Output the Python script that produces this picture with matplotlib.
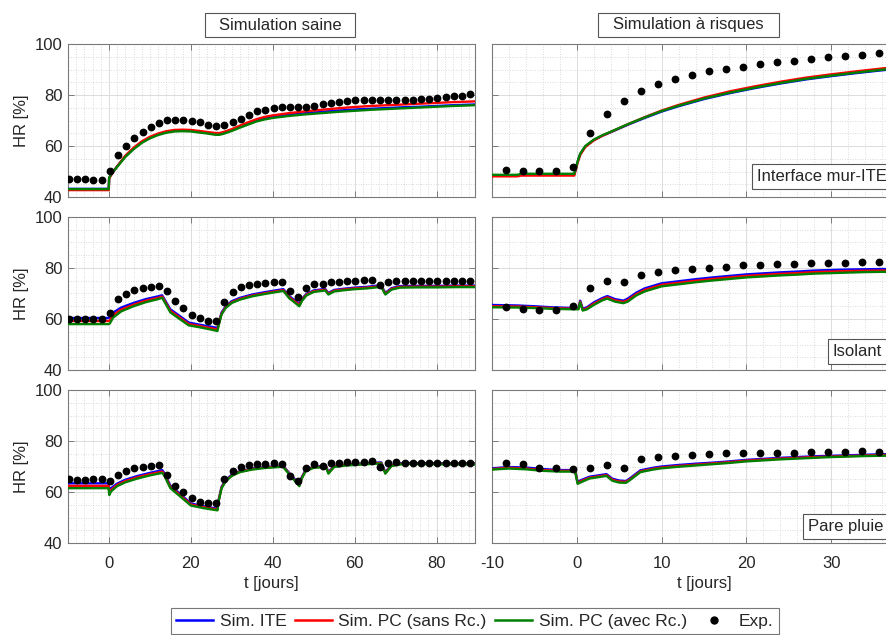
import numpy as np
import matplotlib
matplotlib.use("Agg")
import matplotlib.pyplot as plt
from matplotlib.ticker import MultipleLocator
from matplotlib.lines import Line2D
from matplotlib.patches import Rectangle

plt.rcParams['font.family'] = ['Liberation Sans', 'DejaVu Sans']
plt.rcParams['axes.unicode_minus'] = False

# ---------------- DATA ----------------
col_titles = ["Simulation saine", "Simulation à risques"]
row_labels = ["Interface mur-ITE", "Isolant", "Pare pluie"]
legend_labels = ["Sim. ITE", "Sim. PC (sans Rc.)", "Sim. PC (avec Rc.)", "Exp."]

# experimental time stamps
t_exp_saine = np.arange(-9.8, 88.3, 2.0)
t_exp_risque = np.arange(-8.4, 35.7, 2.0)

exp_TL = [47.1, 47.1, 47.0, 46.7, 46.7, 50.1, 56.5, 59.9, 63.3, 65.4, 67.3, 69.0, 70.1, 70.3, 70.2,
          69.9, 69.3, 68.2, 67.7, 68.2, 69.3, 70.7, 72.3, 73.6, 74.3, 75.0, 75.3, 75.3, 75.3, 75.3,
          75.6, 76.3, 77.0, 77.3, 77.6, 78.0, 78.0, 78.2, 78.0, 78.1, 78.1, 78.1, 78.2, 78.5, 78.6,
          78.8, 79.1, 79.5, 79.8, 80.2]
exp_ML = [60.0, 60.0, 60.0, 60.0, 60.0, 62.5, 67.7, 69.7, 71.4, 72.3, 72.7, 73.1, 71.0, 67.1, 64.4,
          61.6, 60.3, 59.3, 59.3, 66.8, 70.5, 72.4, 73.3, 73.7, 74.0, 74.5, 74.5, 70.8, 68.5, 72.2,
          73.7, 73.7, 74.4, 74.6, 74.9, 75.0, 75.3, 75.3, 73.2, 74.5, 74.9, 75.0, 75.0, 75.0, 75.0,
          75.0, 74.9, 74.9, 74.9, 75.0]
exp_BL = [65.0, 64.7, 64.7, 65.0, 65.0, 64.3, 66.7, 68.4, 69.3, 69.9, 70.3, 70.6, 66.7, 62.4, 60.1,
          57.5, 56.2, 55.6, 55.8, 65.0, 68.4, 69.9, 70.6, 70.9, 70.9, 71.2, 71.0, 66.3, 64.4, 69.3,
          70.9, 70.2, 71.2, 71.5, 71.6, 71.9, 71.9, 72.2, 69.9, 71.5, 71.9, 71.5, 71.5, 71.5, 71.5,
          71.5, 71.5, 71.5, 71.5, 71.5]
exp_TR = [50.7, 50.3, 50.1, 50.3, 51.6, 65.1, 72.6, 77.8, 81.4, 84.3, 86.3, 87.8, 89.3, 90.3, 91.1,
          92.2, 92.8, 93.3, 94.1, 94.8, 95.2, 95.7, 96.3]
exp_MR = [64.6, 63.9, 63.5, 63.5, 65.1, 72.0, 75.0, 74.6, 77.3, 78.6, 79.2, 79.7, 80.1, 80.5, 81.0,
          81.0, 81.4, 81.4, 81.8, 82.1, 82.1, 82.4, 82.4]
exp_BR = [71.5, 70.8, 69.5, 69.3, 68.9, 69.5, 70.6, 69.3, 72.8, 73.9, 74.1, 74.5, 74.9, 75.2, 75.4,
          75.4, 75.4, 75.4, 75.6, 75.8, 75.8, 76.1, 75.8]

# simulations: top-left
t_TL = [-10, -0.05, 0.05, 0.8, 2, 4, 6, 8, 10, 12, 14, 16, 18, 20, 22, 24, 26, 27, 28, 30, 32, 34, 36,
        38, 40, 44, 48, 52, 56, 60, 64, 68, 72, 76, 80, 84, 89.5]
ite_TL = [43.2, 43.2, 47.5, 49.5, 52.0, 56.0, 59.0, 61.5, 63.3, 64.6, 65.5, 66.0, 66.1, 66.0, 65.6,
          65.2, 64.8, 64.8, 65.2, 66.3, 67.6, 68.8, 70.0, 70.8, 71.5, 72.3, 72.9, 73.4, 73.9, 74.3,
          74.6, 74.9, 75.2, 75.4, 75.7, 76.0, 76.3]
pcs_TL = [42.7, 42.7, 47.2, 49.3, 52.0, 56.2, 59.3, 61.8, 63.6, 64.9, 65.8, 66.3, 66.4, 66.3, 65.9,
          65.5, 65.1, 65.1, 65.5, 66.6, 68.0, 69.3, 70.5, 71.4, 72.0, 72.9, 73.6, 74.2, 74.8, 75.3,
          75.7, 76.0, 76.3, 76.6, 76.9, 77.2, 77.5]
pca_TL = [43.1, 43.1, 47.6, 49.5, 51.8, 55.7, 58.7, 61.2, 63.0, 64.3, 65.2, 65.7, 65.8, 65.7, 65.3,
          64.9, 64.4, 64.4, 64.8, 65.9, 67.2, 68.4, 69.6, 70.4, 71.0, 71.8, 72.4, 72.9, 73.4, 73.8,
          74.2, 74.5, 74.8, 75.1, 75.4, 75.7, 76.0]

# simulations: top-right
t_TR = [-10, -7, -6.6, -0.3, 0.1, 0.4, 1, 2, 3, 4, 6, 8, 10, 12, 15, 18, 21, 24, 27, 30, 33, 36, 40]
ite_TR = [48.5, 48.5, 48.8, 48.8, 53.8, 56.8, 59.8, 62.3, 64.0, 65.4, 68.3, 71.0, 73.5, 75.6, 78.4,
          80.7, 82.7, 84.5, 86.1, 87.4, 88.6, 89.7, 91.0]
pcs_TR = [48.1, 48.1, 48.4, 48.4, 53.5, 56.5, 59.6, 62.2, 64.0, 65.5, 68.5, 71.3, 73.9, 76.1, 79.0,
          81.4, 83.4, 85.2, 86.8, 88.1, 89.3, 90.4, 91.7]
pca_TR = [48.7, 48.7, 49.1, 49.1, 54.0, 57.0, 60.0, 62.5, 64.2, 65.6, 68.5, 71.2, 73.7, 75.8, 78.6,
          80.9, 82.9, 84.7, 86.3, 87.6, 88.8, 89.9, 91.2]

# simulations: middle-left
t_ML = [-10, -0.1, 0.2, 1, 3, 6, 9, 12, 13, 14, 15, 17, 19.5, 22, 24.5, 26.5, 26.8, 27.5, 28.5, 30,
        32, 35, 38, 41, 42.6, 44, 46.5, 47.2, 48.2, 50, 52.8, 53.6, 55, 57, 60, 63, 66.5, 67.5, 69,
        71, 75, 80, 85, 89.5]
ite_ML = [60.4, 60.4, 60.6, 62.5, 64.5, 66.3, 67.8, 68.9, 69.3, 66.5, 63.8, 61.5, 58.6, 57.8, 57.1,
          56.5, 58.5, 62.5, 65.0, 67.0, 68.3, 69.6, 70.5, 71.3, 71.7, 69.0, 66.0, 68.0, 69.8, 71.2,
          71.8, 70.2, 71.4, 71.8, 72.3, 72.6, 73.3, 70.2, 72.1, 72.9, 73.0, 73.0, 73.1, 73.1]
pcs_ML = [59.2, 59.2, 59.4, 61.5, 63.7, 65.6, 67.2, 68.3, 68.8, 66.0, 63.2, 60.9, 58.0, 57.3, 56.5,
          55.9, 58.0, 62.1, 64.6, 66.6, 67.9, 69.2, 70.1, 70.9, 71.3, 68.6, 65.5, 67.6, 69.5, 70.9,
          71.5, 69.9, 71.1, 71.5, 72.0, 72.3, 72.9, 69.9, 71.8, 72.6, 72.7, 72.7, 72.8, 72.8]
pca_ML = [58.0, 58.0, 58.2, 60.5, 63.0, 65.0, 66.6, 67.8, 68.3, 65.5, 62.6, 60.3, 57.5, 56.8, 56.0,
          55.3, 57.5, 61.8, 64.3, 66.3, 67.6, 68.9, 69.8, 70.6, 71.0, 68.2, 65.0, 67.2, 69.2, 70.6,
          71.2, 69.6, 70.8, 71.2, 71.7, 72.0, 72.6, 69.6, 71.5, 72.3, 72.4, 72.4, 72.5, 72.5]

# simulations: middle-right
t_MR = [-10, -7, -5, -3, -0.3, 0.2, 0.4, 0.7, 1.2, 2, 3, 3.6, 4.5, 5.5, 6, 7, 8, 9, 10, 12, 14, 16,
        18, 20, 22, 24, 26, 28, 30, 32, 34, 36, 38, 40]
ite_MR = [65.5, 65.3, 65.0, 64.6, 64.3, 64.3, 67.2, 64.0, 64.6, 66.5, 68.2, 69.0, 67.8, 67.2, 68.0,
          70.3, 72.0, 73.0, 74.0, 74.8, 75.6, 76.3, 76.9, 77.5, 77.9, 78.3, 78.6, 79.0, 79.2, 79.4,
          79.5, 79.6, 79.5, 79.6]
pcs_MR = [65.0, 64.9, 64.6, 64.3, 64.0, 64.0, 66.8, 63.6, 64.2, 66.0, 67.7, 68.5, 67.3, 66.7, 67.4,
          69.7, 71.4, 72.4, 73.4, 74.2, 75.0, 75.7, 76.3, 76.9, 77.3, 77.7, 78.0, 78.4, 78.6, 78.8,
          78.9, 79.0, 78.9, 79.0]
pca_MR = [64.6, 64.5, 64.3, 64.0, 63.8, 63.8, 66.5, 63.3, 63.8, 65.5, 67.3, 68.0, 66.8, 66.2, 66.8,
          69.2, 70.8, 71.8, 72.8, 73.6, 74.4, 75.1, 75.7, 76.3, 76.7, 77.1, 77.4, 77.8, 78.0, 78.2,
          78.4, 78.5, 78.4, 78.5]

# simulations: bottom-left
t_BL = [-10, -0.1, 0.1, 0.5, 2, 4, 7, 10, 13, 13.5, 15, 17, 20, 23, 26.5, 26.8, 27.5, 28.5, 30, 32,
        35, 38, 42.5, 44, 46.5, 47, 48, 50, 53, 53.6, 55, 58, 62, 66.5, 67.5, 69, 72, 78, 84, 89.5]
ite_BL = [63.4, 63.4, 60.5, 61.5, 63.3, 64.8, 66.3, 67.5, 68.6, 67.5, 62.5, 59.8, 55.5, 54.5, 53.4,
          57.0, 62.0, 64.7, 66.8, 68.2, 69.2, 69.8, 70.3, 67.5, 63.0, 65.5, 68.6, 69.9, 70.2, 67.8,
          70.2, 70.8, 71.2, 71.6, 67.8, 70.6, 71.4, 71.3, 71.2, 71.2]
pcs_BL = [62.4, 62.4, 59.6, 60.8, 62.8, 64.3, 65.8, 67.0, 68.0, 67.0, 62.0, 59.3, 55.1, 54.1, 53.1,
          56.7, 61.7, 64.4, 66.5, 68.0, 69.0, 69.6, 70.1, 67.2, 62.6, 65.2, 68.3, 69.7, 70.0, 67.5,
          70.0, 70.6, 71.0, 71.4, 67.5, 70.4, 71.2, 71.1, 71.0, 71.0]
pca_BL = [61.5, 61.5, 58.8, 60.2, 62.3, 63.8, 65.3, 66.5, 67.5, 66.5, 61.5, 58.8, 54.7, 53.7, 52.8,
          56.4, 61.4, 64.2, 66.3, 67.8, 68.8, 69.4, 69.9, 67.0, 62.3, 65.0, 68.1, 69.5, 69.8, 67.2,
          69.8, 70.4, 70.8, 71.2, 67.2, 70.2, 71.0, 70.9, 70.8, 70.8]

# simulations: bottom-right
t_BR = [-10, -8, -6, -4, -2, -0.2, 0.1, 0.6, 1.5, 2.5, 3.5, 4.2, 5, 5.8, 6.2, 7.5, 9, 10, 12, 14, 16,
        18, 20, 22, 24, 26, 28, 30, 32, 34, 36, 38, 40]
ite_BR = [69.3, 69.8, 69.6, 69.0, 68.6, 68.6, 64.0, 64.8, 66.0, 66.5, 67.0, 65.2, 64.5, 64.3, 65.2,
          68.5, 69.5, 70.0, 70.6, 71.1, 71.5, 72.0, 72.6, 73.0, 73.4, 73.7, 74.0, 74.2, 74.4, 74.6,
          74.8, 74.9, 75.0]
pcs_BR = [69.0, 69.5, 69.2, 68.6, 68.3, 68.3, 63.6, 64.4, 65.6, 66.1, 66.6, 64.8, 64.1, 64.0, 64.8,
          68.1, 69.1, 69.6, 70.2, 70.7, 71.2, 71.7, 72.3, 72.7, 73.1, 73.4, 73.7, 73.9, 74.1, 74.3,
          74.5, 74.6, 74.7]
pca_BR = [68.8, 69.2, 68.9, 68.3, 68.0, 68.0, 63.2, 64.0, 65.3, 65.8, 66.3, 64.4, 63.7, 63.6, 64.5,
          67.8, 68.8, 69.3, 69.9, 70.4, 70.9, 71.4, 72.0, 72.4, 72.8, 73.1, 73.4, 73.7, 73.9, 74.1,
          74.2, 74.3, 74.4]

sims = {
    (0, 0): (t_TL, ite_TL, pcs_TL, pca_TL, t_exp_saine, exp_TL),
    (0, 1): (t_TR, ite_TR, pcs_TR, pca_TR, t_exp_risque, exp_TR),
    (1, 0): (t_ML, ite_ML, pcs_ML, pca_ML, t_exp_saine, exp_ML),
    (1, 1): (t_MR, ite_MR, pcs_MR, pca_MR, t_exp_risque, exp_MR),
    (2, 0): (t_BL, ite_BL, pcs_BL, pca_BL, t_exp_saine, exp_BL),
    (2, 1): (t_BR, ite_BR, pcs_BR, pca_BR, t_exp_risque, exp_BR),
}

# ---------------- STYLE / LAYOUT ----------------
W, H = 887, 635
fig = plt.figure(figsize=(W / 100, H / 100), dpi=100)

C_ITE = '#0000ff'
C_PCS = '#ff0000'
C_PCA = '#008000'
SPINE = '#7a7a7a'
BOXEC = '#555555'
TXT = '#262626'
FS = 12

def px_ax(left, top, right, bottom):
    return [left / W, 1 - bottom / H, (right - left) / W, (bottom - top) / H]

rows_px = [(44, 197), (217, 370), (390, 543)]
cols_px = [(68, 475), (492, 916)]
xlims = [(-10, 89.4), (-10, 40)]
label_pos = [(0.625, 0.131), (0.804, 0.124), (0.745, 0.110)]

axes = {}
for r, (top, bot) in enumerate(rows_px):
    for c, (lft, rgt) in enumerate(cols_px):
        ax = fig.add_axes(px_ax(lft, top, rgt, bot))
        axes[(r, c)] = ax
        t, ite, pcs, pca, te, ex = sims[(r, c)]
        ax.plot(t, ite, color=C_ITE, lw=1.7, zorder=3)
        ax.plot(t, pcs, color=C_PCS, lw=1.7, zorder=4)
        ax.plot(t, pca, color=C_PCA, lw=1.7, zorder=5)
        ax.plot(te, ex, 'o', color='black', ms=4.6, mec='black', zorder=6)
        ax.set_xlim(*xlims[c])
        ax.set_ylim(40, 100)
        if c == 0:
            ax.xaxis.set_major_locator(MultipleLocator(20))
        else:
            ax.xaxis.set_major_locator(MultipleLocator(10))
        ax.xaxis.set_minor_locator(MultipleLocator(2))
        ax.yaxis.set_major_locator(MultipleLocator(20))
        ax.yaxis.set_minor_locator(MultipleLocator(5))
        ax.grid(which='major', color='#dcdcdc', lw=0.7, ls='-', zorder=0)
        ax.grid(which='minor', color='#cfcfcf', lw=0.6, ls=(0, (1, 2)), zorder=0)
        ax.set_axisbelow(True)
        ax.tick_params(which='major', direction='in', length=4, width=0.7, color=SPINE,
                       top=True, right=True, labelsize=FS, labelcolor=TXT)
        ax.tick_params(axis='y', which='major', pad=4)
        ax.tick_params(axis='x', which='major', pad=9)
        ax.tick_params(which='minor', length=0)
        for s in ax.spines.values():
            s.set_color(SPINE)
            s.set_linewidth(0.8)
        if c == 0:
            ax.set_ylabel('HR [%]', fontsize=FS, color=TXT, labelpad=4)
            ax.set_yticks([40, 60, 80, 100])
        else:
            ax.tick_params(labelleft=False)
        if r < 2:
            ax.tick_params(labelbottom=False)
        else:
            ax.set_xlabel('t [jours]', fontsize=FS, color=TXT, labelpad=4)
        if c == 1:
            lx, ly = label_pos[r]
            ax.text(lx, ly, row_labels[r], transform=ax.transAxes, fontsize=FS, color=TXT,
                    ha='left', va='center', zorder=10,
                    bbox=dict(boxstyle='square,pad=0.3', fc='white', ec=BOXEC, lw=0.8))

axes[(2, 0)].set_xticks([0, 20, 40, 60, 80])
axes[(2, 1)].set_xticks([-10, 0, 10, 20, 30])
axes[(2, 1)].set_xticks([40], minor=True)
axes[(2, 1)].xaxis.set_minor_locator(MultipleLocator(2))

# column titles in boxes
title_boxes = [(205, 13, 355, 37), (598, 13, 779, 37)]
for (x0, y0, x1, y1), ttl in zip(title_boxes, col_titles):
    fig.patches.append(Rectangle((x0 / W, 1 - y1 / H), (x1 - x0) / W, (y1 - y0) / H,
                                 transform=fig.transFigure, fc='white', ec=BOXEC, lw=0.8))
    fig.text((x0 + x1) / 2 / W, 1 - (y0 + y1) / 2 / H, ttl, ha='center', va='center',
             fontsize=FS, color=TXT)

# legend
handles = [Line2D([], [], color=C_ITE, lw=1.8),
           Line2D([], [], color=C_PCS, lw=1.8),
           Line2D([], [], color=C_PCA, lw=1.8),
           Line2D([], [], ls='none', marker='o', color='black', ms=5)]
leg = fig.legend(handles, legend_labels, loc='center', bbox_to_anchor=(475 / W, 1 - 621 / H),
                 ncol=4, fontsize=12.5, frameon=True, fancybox=False, handlelength=2.1,
                 handletextpad=0.4, columnspacing=0.5, borderpad=0.3, borderaxespad=0)
leg.get_frame().set_edgecolor(BOXEC)
leg.get_frame().set_linewidth(0.8)
for txt in leg.get_texts():
    txt.set_color(TXT)

fig.savefig('out.png', dpi=100)
